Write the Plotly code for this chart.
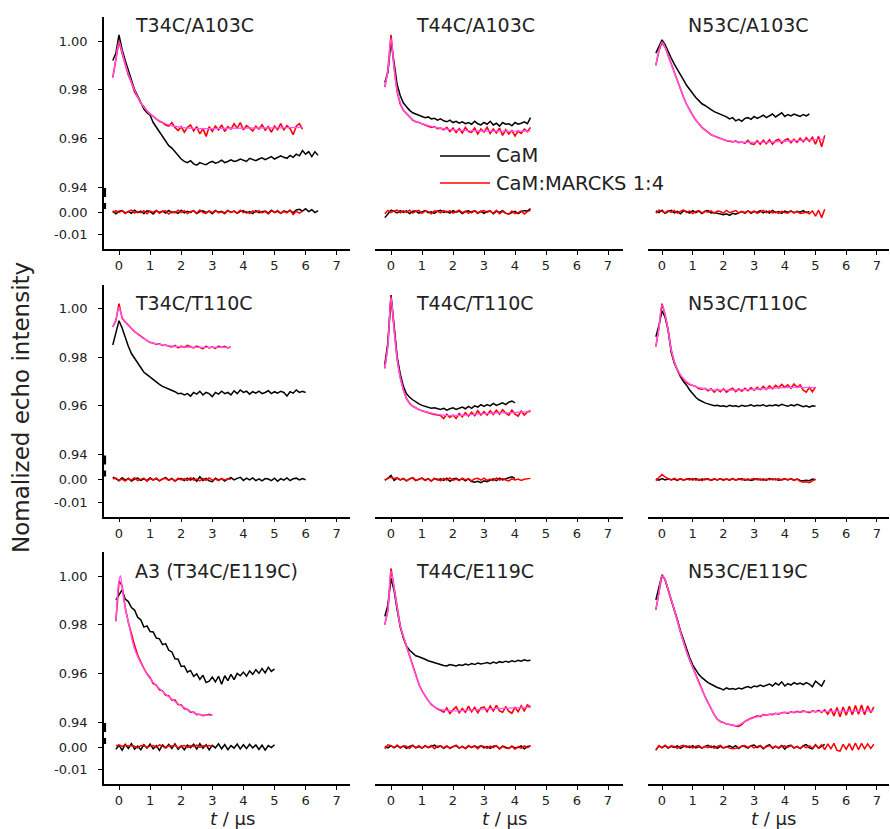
import numpy as np
import plotly.graph_objects as go

# ---------------- data (echo values in units of 1e-4; time step 0.1 us) ----------------
STEP = 0.1
titles = ["T34C/A103C", "T44C/A103C", "N53C/A103C",
          "T34C/T110C", "T44C/T110C", "N53C/T110C",
          "A3 (T34C/E119C)", "T44C/E119C", "N53C/E119C"]
x_ticks = [0, 1, 2, 3, 4, 5, 6, 7]
y_ticks_upper = [0.94, 0.96, 0.98, 1.00]
y_ticks_lower = [-0.01, 0.00]
legend_names = ["CaM", "CaM:MARCKS 1:4"]

t_start = [-0.2, -0.2, -0.2, -0.2, -0.2, -0.2, -0.1, -0.2, -0.2]

# ---- T34C/A103C
p1_cam = [9920, 9950, 10025, 9965, 9920, 9880, 9840, 9800, 9775, 9745,
          9720, 9705, 9695, 9665, 9645, 9625, 9610, 9585, 9570, 9560,
          9545, 9530, 9515, 9505, 9500, 9508, 9495, 9490, 9500, 9495,
          9492, 9500, 9505, 9498, 9502, 9510, 9500, 9505, 9512, 9505,
          9508, 9515, 9510, 9505, 9518, 9512, 9508, 9515, 9520, 9512,
          9518, 9525, 9515, 9520, 9528, 9522, 9518, 9530, 9522, 9535,
          9528, 9550, 9535, 9545, 9525, 9545, 9530]
p1_mar = [9850, 9920, 10000, 9950, 9900, 9860, 9830, 9790, 9770, 9745,
          9730, 9712, 9700, 9690, 9680, 9670, 9665, 9655, 9650, 9665,
          9645, 9632, 9648, 9625, 9645, 9655, 9630, 9648, 9618, 9640,
          9608, 9648, 9628, 9650, 9635, 9655, 9628, 9648, 9638, 9660,
          9642, 9665, 9635, 9652, 9642, 9630, 9650, 9638, 9656, 9634,
          9648, 9625, 9650, 9636, 9660, 9635, 9652, 9640, 9615, 9650,
          9660, 9638]
p1_fit_t = [-0.2, -0.1, 0, 0.1, 0.2, 0.4, 0.6, 0.8, 1.0, 1.3, 1.6, 2.0, 2.5, 3, 4, 5, 5.9]
p1_fit = [9850, 9925, 9995, 9955, 9905, 9830, 9770, 9728, 9700, 9672, 9655, 9645, 9640, 9640, 9642, 9643, 9645]
p1_cam_res = [5, -8, 3, 6, -4, 2, -6, 8, -3, 4, -7, 5, 2, -9, 6, -2, 4, -5, 7, -3,
              1, -6, 8, -4, 3, -2, 6, -7, 2, 5, -3, 4, -8, 6, -1, 3, -5, 7, -2, 4,
              -6, 3, 5, -4, 2, -7, 6, -3, 1, 4, -5, 8, -2, 3, -6, 5, -1, 7, -4, 9,
              12, 4, 15, 2, 10, -3, 6]
p1_mar_res = [-4, 6, -2, 5, -7, 3, 8, -5, 2, -3, 6, -8, 4, -1, 7, -6, 3, 5, -9, 2,
              -4, 8, -3, 6, -7, 2, 4, -5, 9, -2, -6, 5, -3, 7, -4, 1, -8, 6, -2, 4,
              -5, 8, -3, 2, -7, 5, -1, 6, -4, 3, -9, 5, -2, 7, -6, 2, -4, 8, -11, 3,
              -5, 4]

# ---- T44C/A103C
p2_cam = [9830, 9870, 10000, 9900, 9820, 9775, 9745, 9730, 9715, 9705,
          9700, 9695, 9690, 9685, 9688, 9680, 9682, 9675, 9680, 9672,
          9668, 9675, 9665, 9670, 9662, 9668, 9660, 9665, 9658, 9670,
          9660, 9655, 9665, 9658, 9670, 9655, 9662, 9650, 9665, 9658,
          9660, 9652, 9665, 9658, 9662, 9668, 9660, 9685]
p2_mar = [9810, 9880, 10025, 9890, 9790, 9740, 9715, 9700, 9688, 9675,
          9668, 9665, 9660, 9655, 9650, 9645, 9648, 9640, 9642, 9635,
          9645, 9628, 9642, 9624, 9640, 9622, 9645, 9628, 9625, 9642,
          9618, 9638, 9626, 9645, 9620, 9638, 9622, 9642, 9612, 9635,
          9618, 9632, 9610, 9630, 9620, 9638, 9628, 9645]
p2_fit_t = [-0.2, -0.1, 0, 0.1, 0.2, 0.35, 0.5, 0.75, 1, 1.5, 2, 3, 4, 4.5]
p2_fit = [9810, 9880, 10010, 9890, 9795, 9730, 9700, 9672, 9660, 9643, 9635, 9630, 9630, 9630]
p2_cam_res = [-25, -6, 8, 3, -4, 6, -2, 5, -7, 3, 4, -5, 2, 6, -3, 1, -6, 4, 7, -2,
              3, -5, 6, -1, 4, -7, 2, 5, -3, 6, -4, 3, -6, 2, 5, -8, 4, -2, 6, -5,
              -9, -4, 3, -7, 2, 6, 4, 15]
p2_mar_res = [-8, 7, -3, 5, 9, -4, 6, -2, 8, -5, 3, 7, -6, 4, 2, -8, 5, 3, -4, 7,
              -2, 6, -5, 3, 8, -3, 4, -6, 2, 5, -7, 3, 6, -2, 4, -5, 7, -8, 3, -6,
              -10, 4, -7, -3, 5, -9, 2, 8]

# ---- N53C/A103C
p3_cam = [9950, 9975, 10005, 9985, 9955, 9930, 9905, 9885, 9865, 9840,
          9818, 9800, 9785, 9768, 9755, 9742, 9735, 9725, 9718, 9710,
          9705, 9698, 9692, 9688, 9680, 9685, 9672, 9678, 9670, 9682,
          9685, 9678, 9690, 9682, 9688, 9695, 9685, 9692, 9700, 9688,
          9695, 9705, 9690, 9698, 9692, 9700, 9695, 9690, 9698, 9692,
          9700]
p3_mar = [9900, 9960, 9995, 9975, 9940, 9905, 9870, 9840, 9805, 9770,
          9740, 9715, 9695, 9675, 9660, 9645, 9635, 9625, 9615, 9610,
          9605, 9598, 9595, 9590, 9588, 9585, 9590, 9582, 9585, 9580,
          9592, 9578, 9575, 9590, 9576, 9592, 9578, 9594, 9576, 9590,
          9596, 9580, 9592, 9598, 9582, 9596, 9584, 9600, 9586, 9602,
          9588, 9604, 9576, 9608, 9565, 9612]
p3_fit_t = [-0.2, -0.1, 0, 0.1, 0.2, 0.4, 0.6, 0.8, 1.0, 1.3, 1.6, 2.0, 2.5, 3, 4, 5, 5.3]
p3_fit = [9900, 9960, 9995, 9975, 9940, 9870, 9805, 9740, 9695, 9645, 9615, 9595, 9585, 9583, 9588, 9595, 9597]
p3_cam_res = [5, -3, 8, -6, 2, 7, -4, 3, -8, 5, 2, -5, 6, -3, 4, -7, 3, 6, -4, -2,
              -6, -9, -12, -8, -15, -6, -10, -4, 2, -3, 5, -6, 3, -2, 6, -4, 4, -5, 7, -3,
              2, -6, 4, -2, 5, -4, 3, -1, 6, -3, 2]
p3_mar_res = [-6, 8, 3, -4, 6, -2, 7, -5, 3, 9, -3, 5, -7, 2, 6, -4, 3, -1, 5, -6,
              4, 2, -5, 7, -3, 1, 6, -4, 3, -7, 5, -2, 4, -6, 2, 7, -3, 5, -4, 1,
              -6, 3, -2, -5, 4, -3, 2, -6, -4, 1, -8, 5, -18, 8, -25, 12]

# ---- T34C/T110C
p4_cam = [9850, 9900, 9950, 9920, 9880, 9845, 9815, 9795, 9775, 9755,
          9738, 9728, 9718, 9705, 9695, 9688, 9680, 9675, 9668, 9662,
          9658, 9650, 9652, 9645, 9650, 9640, 9655, 9648, 9660, 9645,
          9655, 9650, 9638, 9655, 9648, 9660, 9650, 9655, 9645, 9662,
          9650, 9665, 9655, 9660, 9648, 9658, 9652, 9660, 9650, 9655,
          9662, 9650, 9658, 9652, 9660, 9655, 9640, 9658, 9652, 9665,
          9655, 9660, 9655]
p4_mar = [9925, 9950, 10020, 9960, 9945, 9930, 9918, 9905, 9895, 9885,
          9875, 9868, 9860, 9858, 9852, 9855, 9848, 9850, 9845, 9842,
          9848, 9838, 9845, 9840, 9848, 9842, 9838, 9845, 9840, 9835,
          9845, 9838, 9842, 9836, 9845, 9840, 9844, 9838, 9842]
p4_fit_t = [-0.2, -0.1, 0, 0.1, 0.3, 0.5, 0.75, 1, 1.5, 2, 3, 3.6]
p4_fit = [9925, 9955, 10005, 9965, 9930, 9905, 9880, 9862, 9848, 9842, 9840, 9840]
p4_cam_res = [10, 4, -6, 8, -3, 5, -7, 2, 6, -4, 3, -5, 7, -2, 4, -6, 3, 8, -3, 5,
              -7, 2, 4, -5, 6, -3, 7, -8, 12, -4, 5, -6, -10, 6, -3, 4, -7, 3, 8, -2,
              5, 10, -4, 6, -2, 7, -5, 3, -6, 4, 2, -5, 6, -8, 4, -3, 7, -5, 3, 6,
              -2, 4, -1]
p4_mar_res = [3, 6, -4, 2, -7, 5, -3, 8, -5, 2, 6, -8, 4, -3, 7, -6, 2, 5, -4, 3,
              -7, 6, -2, 4, -5, 8, -3, 2, -6, 5, -4, 7, -3, 2, -5, 4, -2, 3, 1]

# ---- T44C/T110C
p5_cam = [9770, 9860, 10055, 9925, 9800, 9730, 9680, 9650, 9635, 9625,
          9615, 9608, 9602, 9598, 9595, 9590, 9592, 9588, 9585, 9590,
          9582, 9588, 9592, 9585, 9590, 9595, 9588, 9598, 9590, 9600,
          9595, 9605, 9598, 9605, 9600, 9610, 9602, 9608, 9612, 9605,
          9615, 9620, 9612]
p5_mar = [9754, 9850, 10050, 9910, 9790, 9715, 9665, 9630, 9610, 9598,
          9590, 9585, 9580, 9575, 9572, 9568, 9565, 9562, 9560, 9548,
          9565, 9552, 9562, 9548, 9568, 9555, 9572, 9558, 9574, 9560,
          9580, 9562, 9576, 9562, 9580, 9565, 9582, 9566, 9584, 9570,
          9562, 9582, 9566, 9558, 9578, 9562, 9575, 9580]
p5_fit_t = [-0.2, -0.1, 0, 0.1, 0.2, 0.3, 0.5, 0.7, 1, 1.5, 2, 3, 4, 4.5]
p5_fit = [9754, 9850, 10045, 9910, 9790, 9715, 9630, 9598, 9580, 9565, 9560, 9568, 9573, 9575]
p5_cam_res = [-3, 5, 18, -4, 6, -2, 4, -6, 3, 7, -5, 2, 6, -3, 4, -7, 5, -2, 3, -4,
              6, -8, 2, 5, -3, 4, -6, 3, -9, -12, -8, -14, -6, -10, -4, 3, -5, 6, -2, 4,
              8, 12, 5]
p5_mar_res = [-4, 6, 10, 4, 7, -2, 5, -6, 3, 8, -4, 2, 6, -5, 3, -7, 4, 2, -6, 5,
              -3, 7, -4, 2, -5, 6, -2, 4, -6, 3, 5, -3, 6, -4, 2, -5, 7, -3, 4, -2,
              -6, 3, -2, 2, -4, 1, 3, 5]

# ---- N53C/T110C
p6_cam = [9884, 9930, 9990, 9965, 9910, 9820, 9775, 9745, 9720, 9700,
          9685, 9665, 9650, 9635, 9625, 9618, 9612, 9608, 9605, 9600,
          9602, 9598, 9600, 9596, 9602, 9598, 9600, 9596, 9602, 9598,
          9600, 9604, 9598, 9602, 9600, 9604, 9598, 9602, 9600, 9604,
          9600, 9606, 9602, 9598, 9604, 9600, 9606, 9600, 9596, 9600,
          9594, 9600, 9598]
p6_mar = [9843, 9920, 10020, 9975, 9912, 9830, 9780, 9748, 9725, 9708,
          9695, 9688, 9684, 9680, 9670, 9668, 9672, 9662, 9670, 9656,
          9668, 9658, 9670, 9656, 9666, 9672, 9658, 9670, 9660, 9672,
          9662, 9675, 9664, 9676, 9666, 9680, 9668, 9682, 9670, 9684,
          9674, 9688, 9676, 9686, 9672, 9690, 9676, 9686, 9664, 9656,
          9676, 9658, 9678]
p6_fit_t = [-0.2, -0.1, 0, 0.1, 0.2, 0.3, 0.5, 0.75, 1, 1.5, 2, 3, 4, 5]
p6_fit = [9843, 9920, 10015, 9975, 9910, 9830, 9748, 9705, 9684, 9668, 9665, 9668, 9675, 9675]
p6_cam_res = [2, -3, 4, -2, 3, -1, 2, -4, 3, -2, 1, 3, -2, 4, -3, 2, -1, 3, -4, 2,
              -2, 3, -1, 2, -3, 4, -2, 1, 3, -3, 2, -4, 1, 3, -2, 2, -3, 4, -1, 2,
              -3, 1, 3, -2, 4, -3, 2, -4, -6, -3, -5, 2, -1]
p6_mar_res = [-5, 8, 22, 12, 4, -3, 5, -2, 4, -4, 3, -2, 4, -3, 2, -5, 3, 1, -3, 4,
              -2, 3, -4, 2, -1, 3, -3, 4, -2, 2, -3, 1, 4, -2, 3, -4, 2, -1, 3, -2,
              4, -3, 2, -1, 3, -4, 2, -8, -12, -10, -14, -6, 2]

# ---- A3 (T34C/E119C)
p7_cam = [9902, 9925, 9943, 9905, 9895, 9870, 9860, 9830, 9820, 9790,
          9795, 9772, 9770, 9745, 9742, 9718, 9722, 9695, 9688, 9660,
          9658, 9628, 9630, 9605, 9612, 9588, 9598, 9575, 9592, 9562,
          9568, 9585, 9565, 9588, 9555, 9590, 9570, 9596, 9574, 9600,
          9590, 9605, 9588, 9610, 9596, 9615, 9600, 9620, 9602, 9625,
          9608, 9618]
p7_mar = [9814, 9980, 9960, 9870, 9810, 9760, 9715, 9675, 9645, 9620,
          9598, 9582, 9558, 9552, 9532, 9528, 9510, 9508, 9490, 9490,
          9472, 9470, 9454, 9452, 9440, 9441, 9430, 9432, 9426, 9430,
          9432, 9428]
p7_fit_t = [-0.1, 0, 0.05, 0.1, 0.2, 0.3, 0.5, 0.75, 1, 1.5, 2, 2.5, 3]
p7_fit = [9814, 9980, 10000, 9955, 9870, 9810, 9700, 9630, 9578, 9514, 9467, 9433, 9428]
p7_cam_res = [-10, 8, -14, 12, -6, 15, -9, 4, -12, 10, -5, 13, -8, 6, -15, 9, -4, 11, -7, 14,
              -10, 5, -12, 8, -3, 12, -9, 15, -6, 10, -13, 7, -4, 14, -8, 11, -12, 6, -5, 13,
              -9, 10, -7, 12, -4, 9, -11, 8, -14, 6, -3, 10]
p7_mar_res = [6, 9, 4, 8, 5, 7, 3, -4, 6, 8, -3, 5, 7, -2, 9, 4, -5, 6, 3, 8,
              -4, 5, 7, -3, 6, 2, 8, -2, 5, 4, 7, 3]

# ---- T44C/E119C
p8_cam = [9834, 9880, 9990, 9940, 9860, 9790, 9745, 9712, 9695, 9682,
          9672, 9668, 9664, 9658, 9652, 9648, 9642, 9638, 9635, 9632,
          9630, 9636, 9633, 9630, 9635, 9632, 9638, 9634, 9640, 9636,
          9642, 9638, 9641, 9644, 9640, 9646, 9642, 9648, 9645, 9650,
          9646, 9652, 9648, 9654, 9650, 9656, 9652, 9654]
p8_mar = [9800, 9860, 10031, 9956, 9875, 9793, 9750, 9712, 9670, 9630,
          9590, 9555, 9528, 9505, 9488, 9472, 9462, 9453, 9448, 9440,
          9458, 9435, 9450, 9462, 9438, 9455, 9440, 9465, 9442, 9460,
          9438, 9458, 9462, 9442, 9465, 9445, 9468, 9446, 9440, 9462,
          9444, 9436, 9460, 9442, 9466, 9446, 9470, 9462]
p8_fit_t = [-0.2, -0.1, 0, 0.1, 0.2, 0.3, 0.5, 0.75, 1, 1.25, 1.5, 2, 3, 4, 4.5]
p8_fit = [9800, 9860, 10020, 9950, 9870, 9795, 9712, 9610, 9528, 9480, 9455, 9446, 9453, 9458, 9460]
p8_cam_res = [2, -4, 6, -3, 5, -2, 4, -6, 3, 7, -4, 2, -5, 6, -3, 4, 8, -2, 5, -6,
              3, -4, 2, 6, -5, 3, -7, 4, -2, 5, -3, 6, -4, 2, -6, 3, 5, -8, 4, -2,
              -6, 3, -4, -2, 5, -8, 2, 4]
p8_mar_res = [-8, 10, 6, -4, 9, -6, 5, 3, -7, 8, -3, 6, -5, 4, -2, 7, -8, 3, 5, -4,
              6, -7, 2, 8, -5, 3, -6, 7, -3, 4, -8, 5, 2, -6, 4, -3, 6, -9, 3, -5,
              -7, 4, -10, 2, -6, 5, -3, 4]

# ---- N53C/E119C
p9_cam = [9902, 9950, 10005, 9985, 9945, 9910, 9865, 9820, 9775, 9735,
          9700, 9665, 9635, 9612, 9595, 9582, 9570, 9562, 9555, 9548,
          9542, 9538, 9532, 9540, 9535, 9538, 9534, 9540, 9536, 9542,
          9546, 9540, 9548, 9545, 9552, 9546, 9550, 9556, 9548, 9560,
          9552, 9565, 9548, 9558, 9552, 9562, 9555, 9560, 9554, 9562,
          9556, 9545, 9568, 9558, 9548, 9572]
p9_mar = [9861, 9930, 10004, 9985, 9945, 9905, 9862, 9818, 9770, 9728,
          9690, 9655, 9625, 9590, 9560, 9532, 9505, 9480, 9455, 9430,
          9412, 9402, 9398, 9392, 9390, 9386, 9384, 9382, 9390, 9402,
          9410, 9415, 9420, 9425, 9422, 9430, 9428, 9432, 9430, 9436,
          9432, 9438, 9440, 9435, 9442, 9438, 9444, 9440, 9446, 9442,
          9438, 9446, 9442, 9448, 9440, 9450, 9432, 9455, 9425, 9460,
          9422, 9462, 9428, 9465, 9430, 9468, 9432, 9470, 9430, 9466,
          9438, 9462]
p9_fit_t = [-0.2, -0.1, 0, 0.1, 0.2, 0.4, 0.6, 0.8, 1.0, 1.2, 1.4, 1.6, 1.8, 2.0, 2.4, 2.8, 3.2, 4, 5, 6, 6.9]
p9_fit = [9861, 9930, 10000, 9985, 9945, 9862, 9770, 9690, 9625, 9560, 9505, 9455, 9412, 9398, 9385, 9408, 9425, 9438, 9443, 9445, 9446]
p9_cam_res = [-12, 4, -3, 6, -5, 3, -2, 5, -6, 2, 4, -3, 6, -4, 2, -5, 3, 7, -2, 4,
              -6, 3, -4, 2, 5, -3, 6, -7, 4, 2, -5, 6, 9, -3, 5, -8, 4, 10, -6, 3,
              -4, 7, -9, 5, 8, -5, 3, -7, 6, 11, -4, -8, 10, -6, 3, 12]
p9_mar_res = [-15, 6, -4, 8, -3, 5, 2, -6, 4, 7, -2, 5, -5, 3, 6, -4, 2, -3, 5, -6,
              3, 7, -4, 2, -5, -8, -6, -3, 4, 6, -2, 5, -4, 3, 7, -5, 2, 6, -3, 4,
              -6, 3, 5, -2, 7, -4, 2, -6, 4, -3, 6, -5, 8, -4, 10, -12, 14, -8, 16, -15,
              -18, 12, -10, 15, -14, 18, -12, 16, -8, 14, -6, 12]

panels = [
    (p1_cam, p1_mar, p1_fit_t, p1_fit, p1_cam_res, p1_mar_res),
    (p2_cam, p2_mar, p2_fit_t, p2_fit, p2_cam_res, p2_mar_res),
    (p3_cam, p3_mar, p3_fit_t, p3_fit, p3_cam_res, p3_mar_res),
    (p4_cam, p4_mar, p4_fit_t, p4_fit, p4_cam_res, p4_mar_res),
    (p5_cam, p5_mar, p5_fit_t, p5_fit, p5_cam_res, p5_mar_res),
    (p6_cam, p6_mar, p6_fit_t, p6_fit, p6_cam_res, p6_mar_res),
    (p7_cam, p7_mar, p7_fit_t, p7_fit, p7_cam_res, p7_mar_res),
    (p8_cam, p8_mar, p8_fit_t, p8_fit, p8_cam_res, p8_mar_res),
    (p9_cam, p9_mar, p9_fit_t, p9_fit, p9_cam_res, p9_mar_res),
]

# ---------------- layout geometry (pixels) ----------------
W, H = 890, 829
FONT = "DejaVu Sans"
TXT = "#222222"
col_px = [(104, 350), (375, 623), (648, 889)]
col_zero = [119, 391, 662]
col_unit = [31.1, 31.0, 30.7]
row_off = [0, 267.5, 535]
UP_TOP, BRK, LOW_BOT = 17, 196, 249
up_range = [0.936301, 1.009864]
low_range = [-0.016444, 0.00711]
title_left = [133, 414, 686]
title_y = [25, 303, 571]


def ydom(top, bot):
    return [1 - bot / H, 1 - top / H]


def vals(v):
    return np.array(v) / 1e4


def times(t0, n):
    return t0 + STEP * np.arange(n)


fig = go.Figure()
layout = {}
annotations = []
shapes = []

for i, (cam, mar, fit_t, fit, cam_res, mar_res) in enumerate(panels):
    r, c = divmod(i, 3)
    k = i + 1
    xs = "" if k == 1 else str(k)
    yu, yl = 2 * k - 1, 2 * k
    yus = "" if yu == 1 else str(yu)
    yls = str(yl)
    t0 = t_start[i]
    o = row_off[r]

    # experimental traces
    fig.add_trace(go.Scatter(x=times(t0, len(cam)), y=vals(cam), mode="lines",
                             line=dict(color="black", width=1.5),
                             xaxis="x" + xs, yaxis="y" + yus, showlegend=False))
    fig.add_trace(go.Scatter(x=times(t0, len(mar)), y=vals(mar), mode="lines",
                             line=dict(color="#ff0000", width=1.6),
                             xaxis="x" + xs, yaxis="y" + yus, showlegend=False))
    fig.add_trace(go.Scatter(x=fit_t, y=vals(fit), mode="lines", line_shape="spline",
                             line=dict(color="#ff55ff", width=1.3),
                             xaxis="x" + xs, yaxis="y" + yus, showlegend=False))
    # residuals
    fig.add_trace(go.Scatter(x=times(t0, len(cam_res)), y=vals(cam_res), mode="lines",
                             line=dict(color="black", width=1.5),
                             xaxis="x" + xs, yaxis="y" + yls, showlegend=False))
    fig.add_trace(go.Scatter(x=times(t0, len(mar_res)), y=vals(mar_res), mode="lines",
                             line=dict(color="#ff0000", width=1.5),
                             xaxis="x" + xs, yaxis="y" + yls, showlegend=False))

    x0p, x1p = col_px[c]
    layout["xaxis" + xs] = dict(
        domain=[x0p / W, x1p / W],
        range=[(x0p - col_zero[c]) / col_unit[c], (x1p - col_zero[c]) / col_unit[c]],
        anchor="y" + yls, showline=True, linecolor="black", linewidth=1.6,
        ticks="outside", ticklen=4, tickwidth=1.4, tickcolor="black",
        tickvals=x_ticks, ticktext=[str(v) for v in x_ticks],
        tickfont=dict(family=FONT, size=13, color=TXT),
        showgrid=False, zeroline=False, fixedrange=True)
    show_y = (c == 0)
    layout["yaxis" + yus] = dict(
        domain=ydom(UP_TOP + o, BRK + o), range=up_range, anchor="x" + xs,
        visible=show_y, showline=True, linecolor="black", linewidth=1.6,
        ticks="outside", ticklen=4, tickwidth=1.4, tickcolor="black",
        tickvals=y_ticks_upper, ticktext=["%.2f" % v for v in y_ticks_upper],
        tickfont=dict(family=FONT, size=13, color=TXT), ticklabelstandoff=8,
        showgrid=False, zeroline=False, fixedrange=True)
    layout["yaxis" + yls] = dict(
        domain=ydom(BRK + o, LOW_BOT + o), range=low_range, anchor="x" + xs,
        visible=show_y, showline=True, linecolor="black", linewidth=1.6,
        ticks="outside", ticklen=4, tickwidth=1.4, tickcolor="black",
        tickvals=y_ticks_lower, ticktext=["-0.01", "0.00"],
        tickfont=dict(family=FONT, size=13, color=TXT), ticklabelstandoff=8,
        showgrid=False, zeroline=False, fixedrange=True)

    # panel title
    annotations.append(dict(text=titles[i], x=title_left[c] / W, y=1 - title_y[r] / H,
                            xref="paper", yref="paper", xanchor="left", yanchor="middle",
                            showarrow=False, font=dict(family=FONT, size=19, color=TXT)))
    # axis break marks on the left column
    if c == 0:
        for (a, b) in [(188, 197), (203, 209)]:
            shapes.append(dict(type="line", xref="paper", yref="paper",
                               x0=104.5 / W, x1=104.5 / W,
                               y0=1 - (a + o) / H, y1=1 - (b + o) / H,
                               line=dict(color="black", width=3.2)))
    # x-axis title on bottom row
    if r == 2:
        annotations.append(dict(text="<i>t</i> / µs", x=((x0p + x1p) / 2 + 5) / W, y=1 - 818 / H,
                                xref="paper", yref="paper", xanchor="center", yanchor="middle",
                                showarrow=False, font=dict(family=FONT, size=18, color=TXT)))

# y-axis title
annotations.append(dict(text="Nomalized echo intensity", x=21 / W, y=1 - 408 / H,
                        xref="paper", yref="paper", xanchor="center", yanchor="middle",
                        textangle=-90, showarrow=False,
                        font=dict(family=FONT, size=23, color=TXT)))

# legend (drawn by hand to match the long line samples)
for name, color, ly in [(legend_names[0], "black", 156), (legend_names[1], "#ff0000", 183)]:
    shapes.append(dict(type="line", xref="paper", yref="paper",
                       x0=440 / W, x1=490 / W, y0=1 - ly / H, y1=1 - ly / H,
                       line=dict(color=color, width=1.6)))
    annotations.append(dict(text=name, x=494 / W, y=1 - ly / H, xref="paper", yref="paper",
                            xanchor="left", yanchor="middle", showarrow=False,
                            font=dict(family=FONT, size=19.5, color=TXT)))

fig.update_layout(
    width=W, height=H, margin=dict(l=0, r=0, t=0, b=0),
    paper_bgcolor="white", plot_bgcolor="white", showlegend=False,
    annotations=annotations, shapes=shapes, **layout)

fig.write_html("out.html", config={"displayModeBar": False},
               post_script="document.body.style.margin='0px';document.body.style.overflow='hidden';")
